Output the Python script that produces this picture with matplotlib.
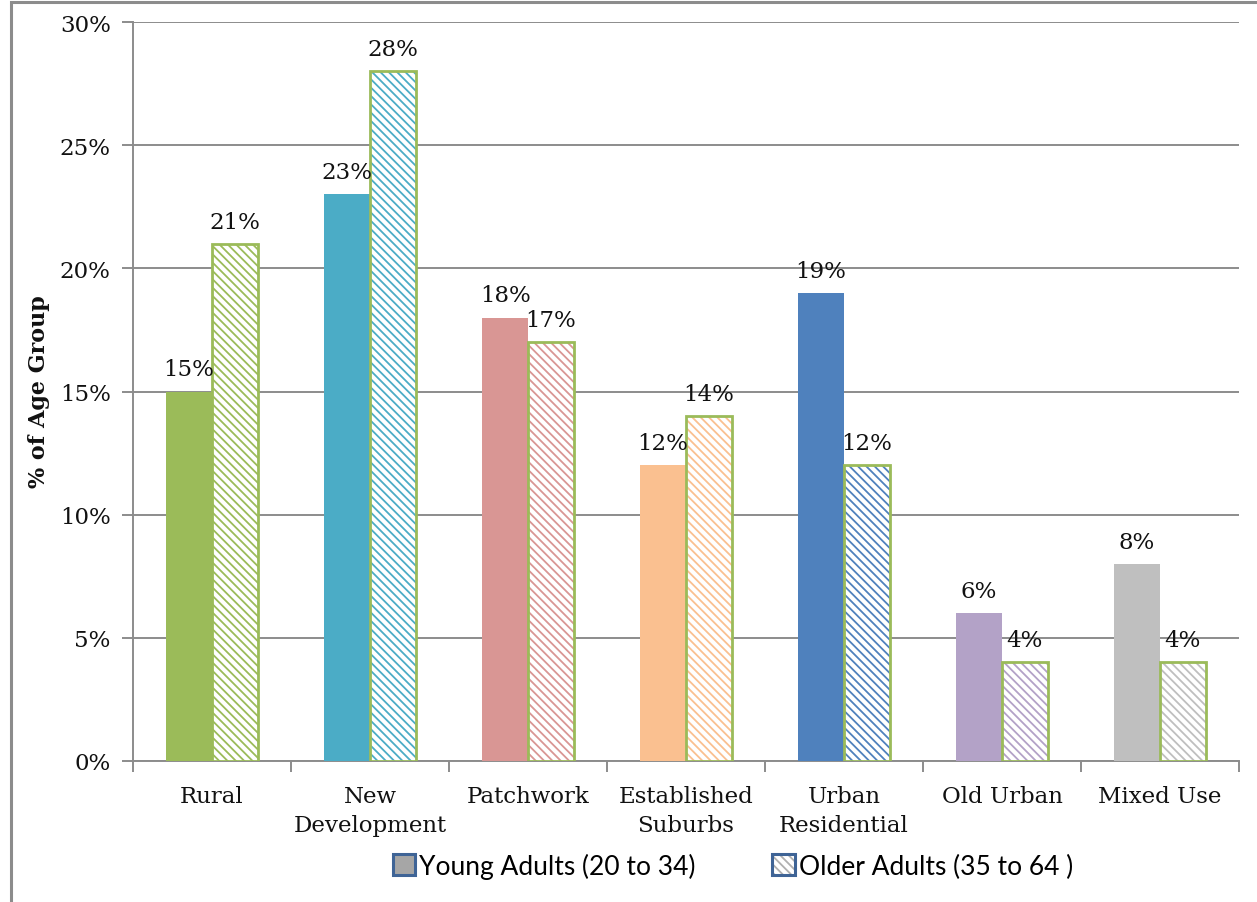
import matplotlib
matplotlib.use("Agg")
import matplotlib.pyplot as plt
from matplotlib.patches import Patch, Rectangle
from matplotlib.legend_handler import HandlerTuple
from matplotlib.ticker import FixedLocator, PercentFormatter
import numpy as np

categories = ["Rural", "New\nDevelopment", "Patchwork", "Established\nSuburbs",
              "Urban\nResidential", "Old Urban", "Mixed Use"]
young = [15, 23, 18, 12, 19, 6, 8]
older = [21, 28, 17, 14, 12, 4, 4]
colors = ["#9BBB59", "#4BACC6", "#D99694", "#FAC090", "#4F81BD", "#B3A2C7", "#BFBFBF"]
y_ticks = [0, 5, 10, 15, 20, 25, 30]
legend_labels = ["Young Adults (20 to 34)", "Older Adults (35 to 64 )"]

SERIF = ["DejaVu Serif"]
FS = 16.5
plt.rcParams["hatch.linewidth"] = 1.3

fig = plt.figure(figsize=(12.57, 9.03), dpi=100)
ax = fig.add_axes([133/1257, 141/903, (1239-133)/1257, (762-23)/903])

# outer frame
fig.patches.append(Rectangle((11/1257, -0.01), 1.1, (903-3)/903 + 0.01, transform=fig.transFigure,
                             fill=False, edgecolor="#8C8C8C", linewidth=2.2, zorder=0))

x = np.arange(len(categories))
w = 0.29
grid_c = "#8C8C8C"

for i in range(len(categories)):
    ax.bar(x[i] - w/2, young[i], width=w, color=colors[i], linewidth=0, zorder=3)
    ax.bar(x[i] + w/2, older[i], width=w, facecolor="white", edgecolor=colors[i],
           hatch="\\\\\\\\", linewidth=0, zorder=3)
    ax.bar(x[i] + w/2, older[i], width=w, fill=False, edgecolor="#9BBB59",
           linewidth=2.0, zorder=4)
    ax.annotate(f"{young[i]}%", (x[i] - w/2, young[i]), xytext=(0, 8),
                textcoords="offset points", ha="center", va="bottom",
                fontsize=FS, family=SERIF, color="#111111", zorder=5)
    ax.annotate(f"{older[i]}%", (x[i] + w/2, older[i]), xytext=(0, 8),
                textcoords="offset points", ha="center", va="bottom",
                fontsize=FS, family=SERIF, color="#111111", zorder=5)

ax.set_xlim(-0.5, len(categories) - 0.5)
ax.set_ylim(0, 30)
ax.set_yticks(y_ticks)
ax.yaxis.set_major_formatter(PercentFormatter(decimals=0))
ax.yaxis.grid(True, color=grid_c, linewidth=1.4, zorder=0)
ax.set_axisbelow(True)

ax.set_xticks(x)
ax.set_xticklabels(categories, fontsize=FS, family=SERIF, color="#111111", linespacing=1.45)
ax.xaxis.set_minor_locator(FixedLocator(np.arange(-0.5, len(categories), 1.0)))
ax.tick_params(axis="x", which="major", length=0, pad=17)
ax.tick_params(axis="x", which="minor", length=8, width=1.4, color=grid_c)
ax.tick_params(axis="y", length=8, width=1.4, color=grid_c, pad=8)
for lab in ax.get_yticklabels():
    lab.set_family(SERIF)
    lab.set_fontsize(FS)
    lab.set_color("#111111")

for s in ["top", "right"]:
    ax.spines[s].set_visible(False)
for s in ["left", "bottom"]:
    ax.spines[s].set_color(grid_c)
    ax.spines[s].set_linewidth(1.4)

fig.text(39/1257, 1 - 392/903, "% of Age Group", rotation=90, ha="center", va="center",
         fontsize=16, fontweight="bold", family=SERIF, color="#111111")

edge_blue = "#3F6496"
h1 = Patch(facecolor="#A6A6A6", edgecolor=edge_blue, linewidth=2.2)
h2a = Patch(facecolor="white", edgecolor="#B0B0B0", hatch="\\\\\\\\", linewidth=0)
h2b = Patch(fill=False, edgecolor=edge_blue, linewidth=2.2)
fig.legend([h1, (h2a, h2b)], legend_labels, loc="center",
           bbox_to_anchor=(733/1257, 1 - 867/903), ncol=2, frameon=False,
           prop={"family": "Lato", "size": 19}, handlelength=0.85, handleheight=0.85,
           handletextpad=0.15, columnspacing=2.9,
           handler_map={tuple: HandlerTuple(ndivide=1, pad=0)})

fig.savefig("out.png", dpi=100)
